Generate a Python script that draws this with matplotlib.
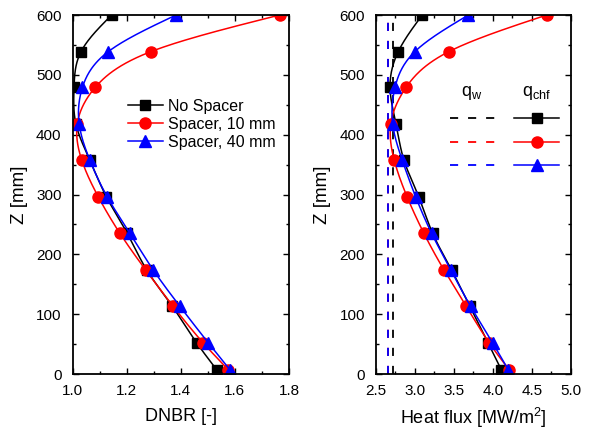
import numpy as np
import matplotlib
matplotlib.use("Agg")
import matplotlib.pyplot as plt
from matplotlib.ticker import MultipleLocator
from matplotlib.lines import Line2D

plt.rcParams['font.family'] = ['Liberation Sans', 'DejaVu Sans']
plt.rcParams['mathtext.default'] = 'regular'

# ---- data ----
z = [600, 539, 479, 418, 357, 296, 235, 174, 113, 52, 7]

dnbr_none = [1.144, 1.031, 1.005, 1.012, 1.064, 1.125, 1.202, 1.274, 1.369, 1.459, 1.533]
dnbr_10 = [1.765, 1.290, 1.083, 1.017, 1.034, 1.095, 1.175, 1.270, 1.372, 1.483, 1.576]
dnbr_40 = [1.382, 1.132, 1.036, 1.024, 1.064, 1.128, 1.212, 1.298, 1.397, 1.502, 1.582]

qchf_none = [3.094, 2.786, 2.680, 2.757, 2.860, 3.050, 3.228, 3.470, 3.707, 3.940, 4.110]
qchf_10 = [4.690, 3.437, 2.885, 2.690, 2.735, 2.900, 3.116, 3.373, 3.660, 3.955, 4.210]
qchf_40 = [3.685, 3.000, 2.744, 2.714, 2.838, 3.010, 3.215, 3.460, 3.716, 3.998, 4.200]

qw_none = 2.713
qw_10 = 2.658
qw_40 = 2.658

series_names = ["No Spacer", "Spacer, 10 mm", "Spacer, 40 mm"]
colors = ["black", "red", "blue"]
markers = ["s", "o", "^"]
msizes = [7.2, 8.0, 8.5]


def natural_spline(xk, yk, xs):
    xk = np.asarray(xk, float)
    yk = np.asarray(yk, float)
    n = len(xk)
    h = np.diff(xk)
    A = np.zeros((n, n))
    r = np.zeros(n)
    A[0, 0] = 1
    A[-1, -1] = 1
    for i in range(1, n - 1):
        A[i, i - 1] = h[i - 1]
        A[i, i] = 2 * (h[i - 1] + h[i])
        A[i, i + 1] = h[i]
        r[i] = 3 * ((yk[i + 1] - yk[i]) / h[i] - (yk[i] - yk[i - 1]) / h[i - 1])
    c = np.linalg.solve(A, r)
    b = (yk[1:] - yk[:-1]) / h - h * (2 * c[:-1] + c[1:]) / 3
    d = (c[1:] - c[:-1]) / (3 * h)
    idx = np.clip(np.searchsorted(xk, xs) - 1, 0, n - 2)
    t = xs - xk[idx]
    return yk[idx] + b[idx] * t + c[idx] * t ** 2 + d[idx] * t ** 3


def smooth(zv, xv):
    zz = np.asarray(zv, float)[::-1]
    xx = np.asarray(xv, float)[::-1]
    zs = np.linspace(zz.min(), zz.max(), 400)
    return natural_spline(zz, xx, zs), zs


fig = plt.figure(figsize=(5.9, 4.3), dpi=100)
ax1 = fig.add_axes([0.1232, 0.130, 0.3666, 0.835])
ax2 = fig.add_axes([0.6373, 0.130, 0.3300, 0.835])

lw = 1.1
dash = (0, (4.5, 5.5))
# left panel
for vals, name, c, m, ms in zip([dnbr_none, dnbr_10, dnbr_40], series_names, colors, markers, msizes):
    xs, zs = smooth(z, vals)
    ax1.plot(xs, zs, color=c, lw=lw)
    ax1.plot(vals, z, linestyle='none', marker=m, color=c, ms=ms)

handles1 = [Line2D([], [], color=c, lw=lw, marker=m, ms=ms) for c, m, ms in zip(colors, markers, msizes)]
ax1.legend(handles1, series_names, loc='upper left', bbox_to_anchor=(0.225, 0.785), frameon=False,
           fontsize=11.5, handlelength=2.2, handletextpad=0.3, labelspacing=0.2, borderaxespad=0)

ax1.set_xlim(1.0, 1.8)
ax1.set_ylim(0, 600)
ax1.xaxis.set_major_locator(MultipleLocator(0.2))
ax1.xaxis.set_minor_locator(MultipleLocator(0.1))
ax1.set_xlabel("DNBR [-]", fontsize=13, labelpad=7)

# right panel
for q, c in zip([qw_none, qw_10, qw_40], colors):
    ax2.plot([q, q], [min(z) - 7, max(z)], color=c, lw=1.3, linestyle=dash)
for vals, c, m, ms in zip([qchf_none, qchf_10, qchf_40], colors, markers, msizes):
    xs, zs = smooth(z, vals)
    ax2.plot(xs, zs, color=c, lw=lw)
    ax2.plot(vals, z, linestyle='none', marker=m, color=c, ms=ms)

hw = [Line2D([], [], color=c, lw=1.3, linestyle=dash) for c in colors]
hc = [Line2D([], [], color=c, lw=lw, marker=m, ms=ms) for c, m, ms in zip(colors, markers, msizes)]
ax2.legend(hw + hc, [""] * 6, ncol=2, loc='upper left', bbox_to_anchor=(0.35, 0.745), frameon=False,
           fontsize=11, handlelength=2.9, handletextpad=0.0, columnspacing=1.3, labelspacing=0.6,
           borderaxespad=0)
ax2.text(0.493, 0.783, "q$_{w}$", transform=ax2.transAxes, fontsize=13, ha='center', va='center')
ax2.text(0.827, 0.783, "q$_{chf}$", transform=ax2.transAxes, fontsize=13, ha='center', va='center')

ax2.set_xlim(2.5, 5.0)
ax2.set_ylim(0, 600)
ax2.xaxis.set_major_locator(MultipleLocator(0.5))
ax2.xaxis.set_minor_locator(MultipleLocator(0.25))
ax2.set_xlabel("Heat flux [MW/m$^{2}$]", fontsize=13, labelpad=6)

for ax in (ax1, ax2):
    ax.yaxis.set_major_locator(MultipleLocator(100))
    ax.yaxis.set_minor_locator(MultipleLocator(50))
    ax.set_ylabel("Z [mm]", fontsize=13.5, labelpad=6)
    ax.tick_params(which='both', direction='in', top=True, right=True, labelsize=11, width=1.0)
    ax.tick_params(which='major', length=4.5)
    ax.tick_params(which='minor', length=2.5)
    ax.tick_params(axis='x', which='major', pad=7)
    ax.tick_params(axis='y', which='major', pad=8)
    for s in ax.spines.values():
        s.set_linewidth(1.3)

fig.savefig("out.png", dpi=100)
